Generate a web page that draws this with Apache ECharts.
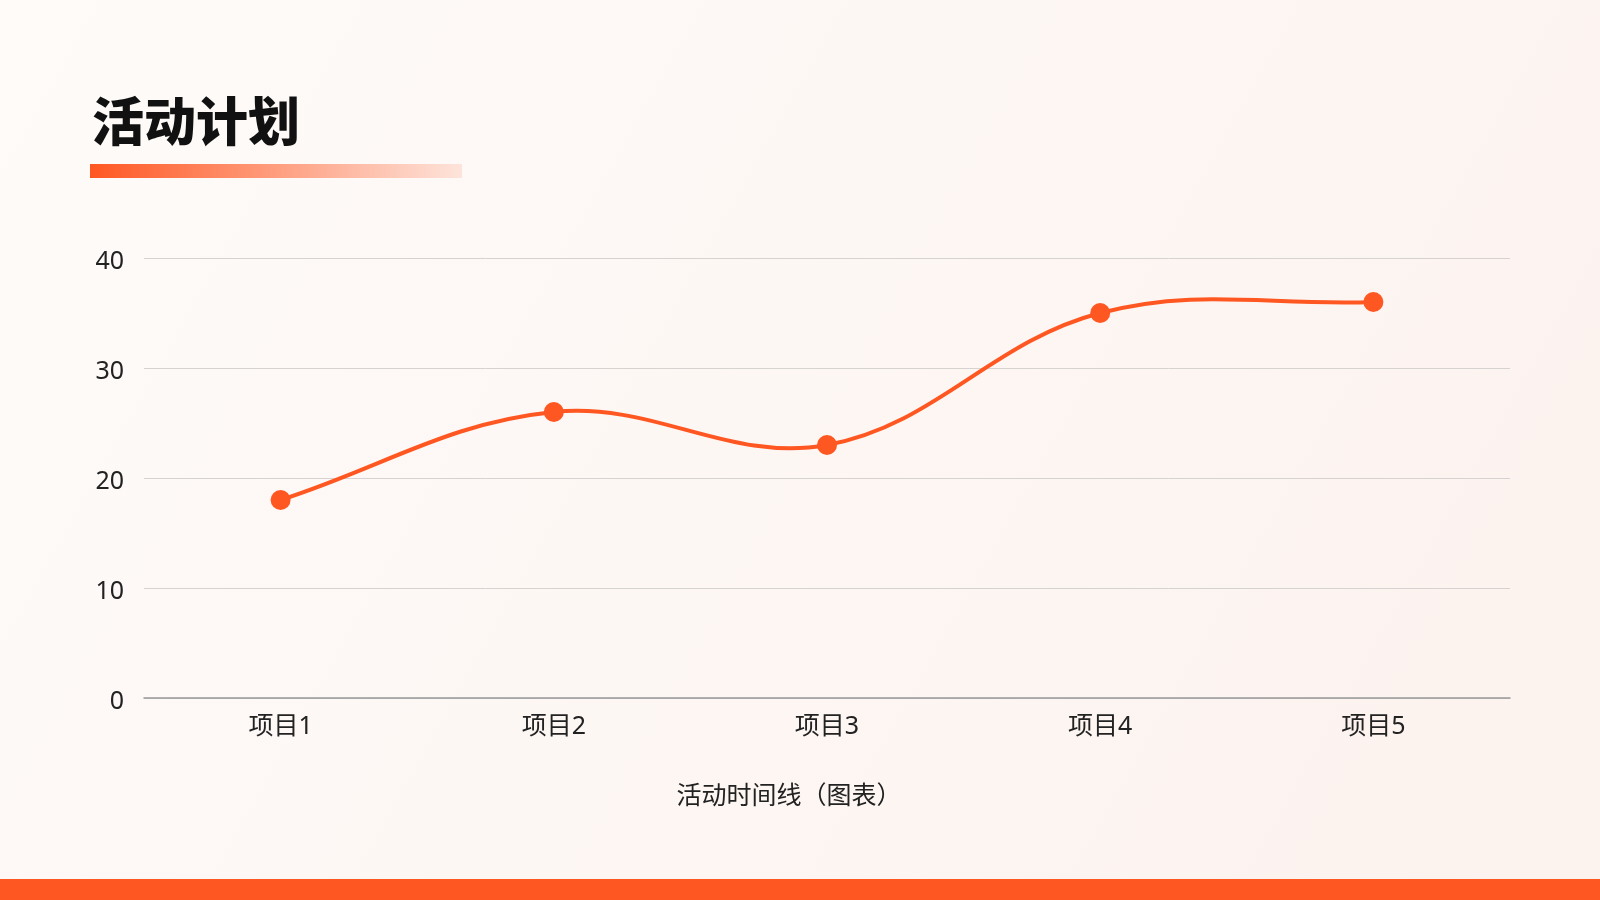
<!DOCTYPE html>
<html>
<head>
<meta charset="utf-8">
<style>
html,body{margin:0;padding:0;width:1600px;height:900px;overflow:hidden;}
#chart{width:1600px;height:900px;}
</style>
<script src="https://cdn.jsdelivr.net/npm/echarts@6/dist/echarts.min.js"></script>
</head>
<body>
<div id="chart"></div>
<script>
const titleText = '活动计划';
const categories = ['项目1', '项目2', '项目3', '项目4', '项目5'];
const values = [18, 26, 23, 35, 36];
const xAxisName = '活动时间线（图表）';
const yTicks = { min: 0, max: 40, interval: 10 };

const chart = echarts.init(document.getElementById('chart'));
const cjk = '"Noto Sans CJK SC", sans-serif';
const font = '"Noto Sans", "Noto Sans CJK SC", sans-serif';
const tension = 0.38;

// Spline (tension-based) segment renderer through the axes' coordinate system
function renderSegment(params, api) {
  const i = params.dataIndex;
  const n = values.length;
  const pts = values.map((v, k) => api.coord([k, v]));
  const children = [];
  if (i < n - 1) {
    const ctrl = (k) => {
      const cur = pts[k];
      const prev = pts[Math.max(k - 1, 0)];
      const next = pts[Math.min(k + 1, n - 1)];
      const d01 = Math.hypot(cur[0] - prev[0], cur[1] - prev[1]);
      const d12 = Math.hypot(next[0] - cur[0], next[1] - cur[1]);
      let s01 = d01 / (d01 + d12), s12 = d12 / (d01 + d12);
      if (!isFinite(s01)) s01 = 0;
      if (!isFinite(s12)) s12 = 0;
      const fa = tension * s01, fb = tension * s12;
      return {
        prev: [cur[0] - fa * (next[0] - prev[0]), cur[1] - fa * (next[1] - prev[1])],
        next: [cur[0] + fb * (next[0] - prev[0]), cur[1] + fb * (next[1] - prev[1])]
      };
    };
    const c0 = ctrl(i), c1 = ctrl(i + 1);
    children.push({
      type: 'bezierCurve',
      shape: {
        x1: pts[i][0], y1: pts[i][1],
        x2: pts[i + 1][0], y2: pts[i + 1][1],
        cpx1: c0.next[0], cpy1: c0.next[1],
        cpx2: c1.prev[0], cpy2: c1.prev[1]
      },
      style: { stroke: '#ff5722', lineWidth: 4, fill: null, lineCap: 'round' }
    });
  }
  return { type: 'group', children: children };
}

chart.setOption({
  backgroundColor: {
    type: 'linear', x: 0, y: 0, x2: 1, y2: 1,
    colorStops: [{ offset: 0, color: '#fefbf9' }, { offset: 1, color: '#fcf2ee' }]
  },
  animation: false,
  graphic: [
    {
      type: 'text', left: 92, top: 95,
      style: { text: titleText, font: '900 52px ' + cjk, fill: '#111' }
    },
    {
      type: 'rect', left: 90, top: 164,
      shape: { width: 372, height: 14 },
      style: {
        fill: {
          type: 'linear', x: 0, y: 0, x2: 1, y2: 0,
          colorStops: [{ offset: 0, color: '#ff5722' }, { offset: 1, color: 'rgba(255,87,34,0.13)' }]
        }
      }
    },
    {
      type: 'rect', left: 0, top: 879,
      shape: { width: 1600, height: 21 },
      style: { fill: '#ff5722' }
    }
  ],
  grid: { left: 144, right: 90, top: 258, bottom: 202, containLabel: false },
  xAxis: {
    type: 'category',
    data: categories,
    boundaryGap: true,
    name: xAxisName,
    nameLocation: 'middle',
    nameGap: 84,
    nameTextStyle: { fontFamily: cjk, fontSize: 25, color: '#222', padding: [0, 76, 0, 0] },
    axisLine: { lineStyle: { color: '#999', width: 1.5 } },
    axisTick: { show: false },
    axisLabel: { fontFamily: font, fontSize: 25, color: '#222', margin: 16 }
  },
  yAxis: {
    type: 'value',
    min: yTicks.min, max: yTicks.max, interval: yTicks.interval,
    axisLine: { show: false },
    axisTick: { show: false },
    axisLabel: {
      fontFamily: font, fontSize: 25, color: '#222', margin: 20,
      formatter: '{v|{value}}',
      rich: { v: { fontFamily: font, fontSize: 25, color: '#222', padding: [7, 0, 0, 0] } }
    },
    splitLine: { lineStyle: { color: '#d6d2d0', width: 1 } }
  },
  series: [
    {
      type: 'custom',
      renderItem: renderSegment,
      data: values.map((v, i) => [i, v]),
      encode: { x: 0, y: 1 },
      z: 2
    },
    {
      type: 'scatter',
      data: values,
      symbol: 'circle',
      symbolSize: 20,
      itemStyle: { color: '#ff5722', opacity: 1 },
      z: 3
    }
  ]
});
</script>
</body>
</html>
